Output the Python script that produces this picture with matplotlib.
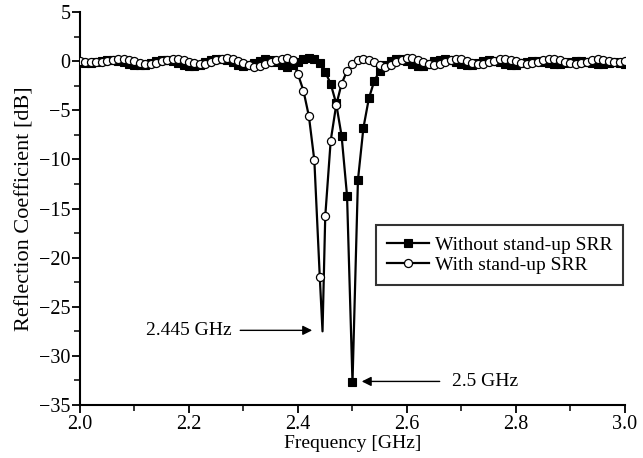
import numpy as np
from matplotlib import pyplot as plt

plt.rcParams['font.family'] = ['Liberation Serif', 'DejaVu Serif']

# frequency grid of the markers [GHz]
freq = np.round(np.arange(2.00, 3.001, 0.01), 2)

# without stand-up SRR (squares)
s11_without = [
    -0.10, -0.15, -0.15, -0.10, 0.00, 0.10, 0.10, 0.05, -0.10, -0.25,
    -0.35, -0.40, -0.35, -0.20, 0.00, 0.10, 0.10, 0.00, -0.20, -0.40,
    -0.50, -0.50, -0.35, -0.10, 0.15, 0.25, 0.25, 0.10, -0.10, -0.35,
    -0.45, -0.40, -0.20, 0.05, 0.20, 0.15, -0.10, -0.40, -0.55, -0.40,
    -0.05, 0.20, 0.30, 0.20, -0.20, -1.10, -2.30, -4.30, -7.60, -13.70,
    -32.70, -12.10, -6.80, -3.80, -2.00, -1.00, -0.40, 0.00, 0.20, 0.20,
    0.00, -0.30, -0.50, -0.50, -0.30, 0.00, 0.15, 0.20, 0.10, -0.10,
    -0.30, -0.40, -0.35, -0.15, 0.00, 0.10, 0.05, -0.10, -0.25, -0.35,
    -0.35, -0.20, -0.05, 0.05, 0.05, -0.05, -0.20, -0.30, -0.30, -0.20,
    -0.05, 0.05, 0.05, -0.05, -0.20, -0.30, -0.30, -0.20, -0.10, -0.15,
    -0.25,
]

# with stand-up SRR (circles)
s11_with = [
    0.00, -0.05, -0.10, -0.10, -0.05, 0.05, 0.15, 0.20, 0.20, 0.15,
    0.00, -0.15, -0.25, -0.25, -0.15, 0.00, 0.15, 0.25, 0.25, 0.15,
    -0.05, -0.20, -0.30, -0.25, -0.10, 0.10, 0.25, 0.30, 0.25, 0.05,
    -0.20, -0.40, -0.55, -0.50, -0.30, -0.10, 0.10, 0.25, 0.35, 0.10,
    -1.35, -3.00, -5.60, -10.10, -22.00, -15.80, -8.10, -4.50, -2.30, -1.00,
    -0.30, 0.10, 0.20, 0.15, -0.10, -0.40, -0.55, -0.40, -0.10, 0.15,
    0.30, 0.30, 0.15, -0.10, -0.30, -0.35, -0.25, -0.05, 0.15, 0.25,
    0.20, 0.05, -0.15, -0.25, -0.25, -0.10, 0.05, 0.20, 0.25, 0.15,
    0.00, -0.15, -0.25, -0.20, -0.05, 0.10, 0.20, 0.20, 0.10, -0.05,
    -0.20, -0.25, -0.20, -0.05, 0.10, 0.20, 0.15, 0.00, -0.10, -0.10,
    0.00,
]

# resonance minimum of the circle curve (no marker there)
dip_with_f = 2.445
dip_with_db = -27.5

line_f_with = np.insert(freq, 45, dip_with_f)
line_db_with = np.insert(np.array(s11_with), 45, dip_with_db)

fig = plt.figure(figsize=(6.43, 4.58), dpi=100)
ax = fig.add_axes([0.1244, 0.1157, 0.8476, 0.858])

ax.plot(freq, s11_without, color='black', lw=1.6, marker='s', ms=5.6,
        mfc='black', mec='black', mew=0.8, label='Without stand-up SRR', zorder=2)
ax.plot(line_f_with, line_db_with, color='black', lw=1.6, zorder=3)
ax.plot(freq, s11_with, ls='none', marker='o', ms=5.8, mfc='white',
        mec='black', mew=0.9, zorder=4)
ax.plot([], [], color='black', lw=1.6, marker='o', ms=5.8, mfc='white',
        mec='black', mew=0.9, label='With stand-up SRR')

ax.set_xlim(2.0, 3.0)
ax.set_ylim(-35, 5)
ax.set_xticks(np.arange(2.0, 3.01, 0.2))
ax.set_xticks(np.arange(2.1, 3.0, 0.2), minor=True)
ax.set_yticks(np.arange(-35, 6, 5))
ax.set_yticks(np.arange(-32.5, 5, 5), minor=True)
ax.xaxis.set_major_formatter(plt.FormatStrFormatter('%.1f'))

for s in ['top', 'right']:
    ax.spines[s].set_visible(False)
for s in ['left', 'bottom']:
    ax.spines[s].set_linewidth(1.5)
ax.tick_params(which='major', direction='out', length=6, width=1.3, labelsize=14.5)
ax.tick_params(which='minor', direction='out', length=4, width=1.1)
ax.tick_params(axis='x', pad=1)
ax.tick_params(axis='y', pad=1)

ax.set_xlabel('Frequency [GHz]', fontsize=14, labelpad=1)
ax.set_ylabel('Reflection Coefficient [dB]', fontsize=16, labelpad=3)

ax.annotate('', xy=(2.426, -27.4), xytext=(2.294, -27.4),
            arrowprops=dict(arrowstyle='-|>', color='black', lw=1.0,
                            mutation_scale=14, shrinkA=0, shrinkB=0))
ax.text(2.279, -27.4, '2.445 GHz', ha='right', va='center', fontsize=14)
ax.annotate('', xy=(2.517, -32.6), xytext=(2.66, -32.6),
            arrowprops=dict(arrowstyle='-|>', color='black', lw=1.0,
                            mutation_scale=14, shrinkA=0, shrinkB=0))
ax.text(2.683, -32.6, '2.5 GHz', ha='left', va='center', fontsize=14)

leg = ax.legend(loc='upper right', bbox_to_anchor=(0.997, 0.457),
                borderaxespad=0, fontsize=14, frameon=True, fancybox=False,
                handlelength=2.2, handletextpad=0.3, borderpad=0.55,
                labelspacing=0.15)
leg.get_frame().set_edgecolor('black')
leg.get_frame().set_linewidth(1.5)

fig.savefig('out.png', dpi=100)
